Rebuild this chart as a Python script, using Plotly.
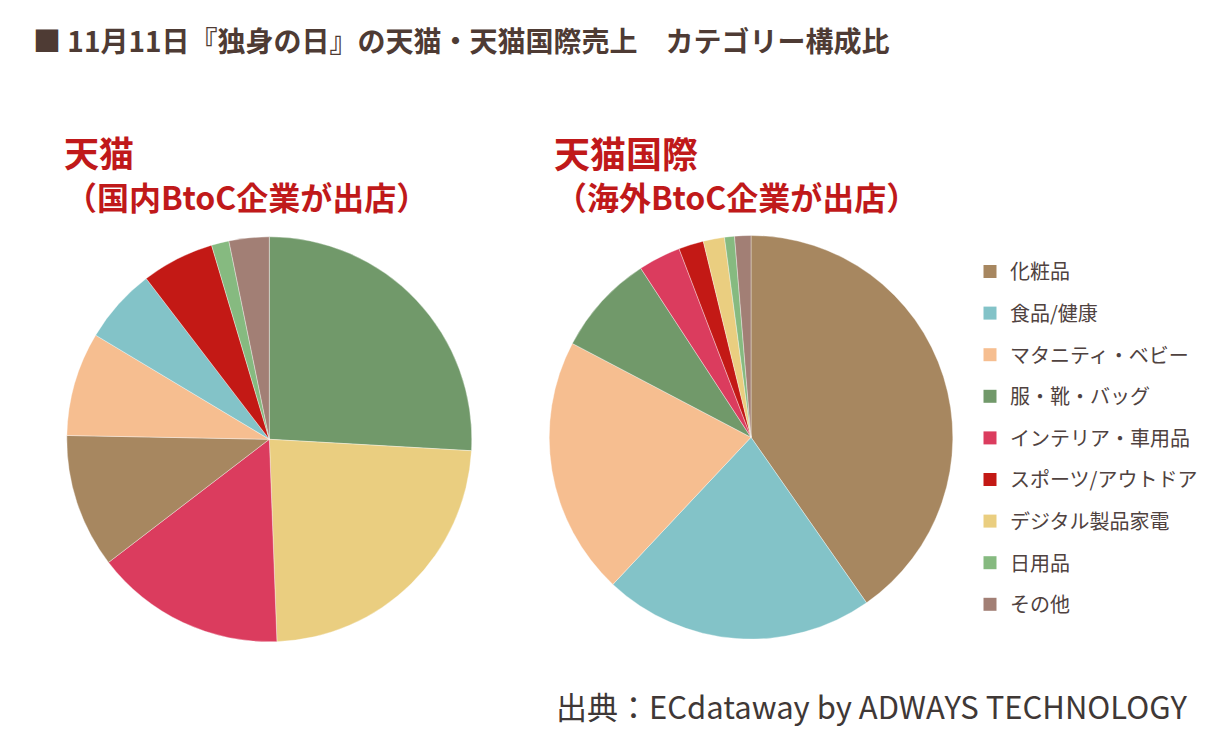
import plotly.graph_objects as go

W, H = 1209, 741

categories = ["化粧品", "食品/健康", "マタニティ・ベビー", "服・靴・バッグ", "インテリア・車用品",
              "スポーツ/アウトドア", "デジタル製品家電", "日用品", "その他"]
colors = ["#A78760", "#83C3C8", "#F6BE90", "#71996A", "#DB3C5E",
          "#C31915", "#EACE80", "#86BA80", "#A27F75"]

# 天猫 (domestic) - slice order as drawn (clockwise from 12 o'clock)
tmall_labels = ["服・靴・バッグ", "デジタル製品家電", "インテリア・車用品", "化粧品", "マタニティ・ベビー",
                "食品/健康", "スポーツ/アウトドア", "日用品", "その他"]
tmall_values = [25.9, 23.5, 15.2, 10.7, 8.3, 6.0, 5.8, 1.4, 3.2]

# 天猫国際 (cross-border)
tmallg_labels = categories
tmallg_values = [40.3, 21.7, 20.7, 8.1, 3.4, 2.0, 1.7, 0.8, 1.3]

cmap = dict(zip(categories, colors))

def px_dom(cx, cy, r):
    return dict(x=[(cx - r) / W, (cx + r) / W], y=[1 - (cy + r) / H, 1 - (cy - r) / H])

fig = go.Figure()
fig.add_trace(go.Pie(labels=tmall_labels, values=tmall_values, sort=False, direction="clockwise",
                     rotation=0, textinfo="none", hoverinfo="label+percent", showlegend=False,
                     marker=dict(colors=[cmap[l] for l in tmall_labels], line=dict(color="rgba(255,255,255,0.6)", width=0.6)),
                     domain=px_dom(269.3, 439.3, 202.5)))
fig.add_trace(go.Pie(labels=tmallg_labels, values=tmallg_values, sort=False, direction="clockwise",
                     rotation=0, textinfo="none", hoverinfo="label+percent", showlegend=False,
                     marker=dict(colors=[cmap[l] for l in tmallg_labels], line=dict(color="rgba(255,255,255,0.6)", width=0.6)),
                     domain=px_dom(751, 437.3, 201.8)))

# legend entries
for lab, col in zip(categories, colors):
    fig.add_trace(go.Scatter(x=[None], y=[None], mode="markers", name=lab, legendgroup=lab,
                             marker=dict(symbol="square", size=13, color=col), showlegend=True))

ann = []
ann.append(dict(text="■ 11月11日『独身の日』の天猫・天猫国際売上　カテゴリー構成比", x=31 / W, y=1 - 39.5 / H,
                xref="paper", yref="paper",
                xanchor="left", yanchor="middle", showarrow=False,
                font=dict(size=28, color="#4E3B34", family="Noto Sans CJK JP", weight="bold")))
for x0, t1, s1, t2 in [(62, "天猫", 35, "（国内BtoC企業が出店）"), (552, "天猫国際", 36, "（海外BtoC企業が出店）")]:
    ann.append(dict(text=t1, x=x0 / W, y=1 - 151.5 / H, xref="paper", yref="paper",
                    xanchor="left", yanchor="middle", showarrow=False,
                    font=dict(size=s1, color="#C0191A", family="Noto Sans CJK JP", weight="bold")))
    ann.append(dict(text=t2, x=(x0 + 1) / W, y=1 - 196 / H, xref="paper", yref="paper",
                    xanchor="left", yanchor="middle", showarrow=False,
                    font=dict(size=32, color="#C0191A", family="Noto Sans CJK JP", weight="bold")))
ann.append(dict(text="出典：ECdataway by ADWAYS TECHNOLOGY", x=1190 / W, y=1 - 705 / H,
                xref="paper", yref="paper",
                xanchor="right", yanchor="middle", showarrow=False,
                font=dict(size=31, color="#3F3836", family="Noto Sans CJK JP")))

fig.update_layout(
    width=W, height=H, margin=dict(l=0, r=0, t=0, b=0),
    paper_bgcolor="white", plot_bgcolor="white",
    xaxis=dict(visible=False), yaxis=dict(visible=False),
    annotations=ann,
    legend=dict(x=970 / W, y=1 - 252 / H, xanchor="left", yanchor="top", tracegroupgap=12.6,
                font=dict(size=20, color="#4F4240", family="Noto Sans CJK JP"),
                bgcolor="rgba(0,0,0,0)", itemwidth=30),
    font=dict(family="Noto Sans CJK JP"),
)

fig.write_html("out.html")
